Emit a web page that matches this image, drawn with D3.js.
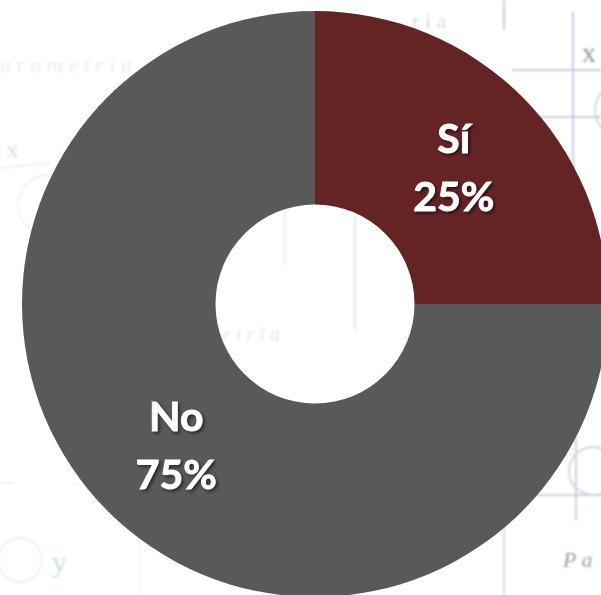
<!DOCTYPE html>
<html>
<head>
<meta charset="utf-8">
<script src="https://cdn.jsdelivr.net/npm/d3@7"></script>
<style>
html,body{margin:0;padding:0;background:#fff;overflow:hidden}
svg{display:block}
.lab{font-family:Lato,"Open Sans",sans-serif;font-weight:700;font-size:41px;fill:#fff;stroke:#fff;stroke-width:.9px;text-anchor:middle;filter:drop-shadow(2px 2px 1.5px rgba(0,0,0,.5))}
.wm{font-family:"Liberation Serif",serif}
</style>
</head>
<body>
<svg id="c" width="601" height="595"></svg>
<script>
const categories = ["Sí", "No"];
const values = [25, 75];
const colors = ["#642424", "#595959"];

// faint background artwork
const bgLines = [
  [504,0,504,30,"#c4cce0",2],[573,12,573,170,"#c4cce0",2],[512,70,601,70,"#c6cbd8",1.8],[540,117,601,117,"#c6cbd8",1.8],
  [576,430,576,520,"#cbd0de",2],[535,495,601,495,"#cbd0de",2],[504,500,504,595,"#d2dbeb",2],
  [285,205,285,265,"#eef1f1",3],[355,215,355,330,"#e6eeee",3],[0,168,50,163,"#eef2f2",1.8],[62,150,62,190,"#f1f3f3",1.8],
  [0,483,15,483,"#eef2f2",1.8],[72,483,90,486,"#f1f3f3",1.8],[140,540,140,595,"#f4f5f5",1.8]
];
const bgCircles = [[593,471,24,"#cfd3e0",1.8],[622,110,27,"#d2d2d2",1.8],[20,560,22,"#edf1f1",1.8],[48,205,30,"#eef2f2",1.8]];
const bgTexts = [
  ["r i a",412,28,22,"normal","#d6dae4"],["a r a m e t r i a",0,72,22,"italic","#e8ecec"],["x",6,158,26,"normal","#dcdfdf"],["x",582,62,28,"normal","#8e95a0"],
  ["y",52,572,30,"normal","#c8e2da"],["e t r i a",222,341,20,"italic","#e8e8e8"],["P a",563,567,22,"italic","#9c9c9c"]
];

const svg = d3.select("#c");
const blur = svg.append("defs").append("filter").attr("id","b");
blur.append("feGaussianBlur").attr("stdDeviation",0.8);
const bg = svg.append("g").attr("filter","url(#b)");
bg.selectAll("line").data(bgLines).join("line")
  .attr("x1",d=>d[0]).attr("y1",d=>d[1]).attr("x2",d=>d[2]).attr("y2",d=>d[3])
  .attr("stroke",d=>d[4]).attr("stroke-width",d=>d[5]);
bg.selectAll("circle").data(bgCircles).join("circle")
  .attr("cx",d=>d[0]).attr("cy",d=>d[1]).attr("r",d=>d[2])
  .attr("fill","none").attr("stroke",d=>d[3]).attr("stroke-width",d=>d[4]);
bg.selectAll("text").data(bgTexts).join("text").attr("class","wm")
  .attr("x",d=>d[1]).attr("y",d=>d[2]).attr("font-size",d=>d[3]).attr("font-style",d=>d[4]).attr("fill",d=>d[5]).text(d=>d[0]);

const cx = 315, cy = 304, R = 293, r0 = 99.5;
const pie = d3.pie().sort(null)(values);
const arc = d3.arc().innerRadius(r0).outerRadius(R);
const g = svg.append("g").attr("transform",`translate(${cx},${cy})`);
g.selectAll("path").data(pie).join("path").attr("d",arc).attr("fill",(d,i)=>colors[i]);

const labels = g.selectAll("g.l").data(pie).join("g").attr("class","l")
  .attr("transform",d=>{const c=arc.centroid(d);return `translate(${c[0]},${c[1]})`;});
labels.append("text").attr("class","lab").attr("y",-12).text((d,i)=>categories[i]);
labels.append("text").attr("class","lab").attr("y",46).text(d=>d.data+"%");
</script>
</body>
</html>
